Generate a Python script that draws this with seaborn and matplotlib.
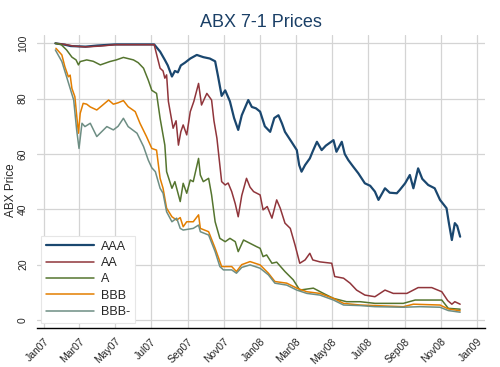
import pandas as pd
import seaborn as sns
import matplotlib.pyplot as plt
import matplotlib.dates as mdates

# days counted from 2007-01-01, prices
aaa_days = [19, 35, 45, 70, 90, 120, 186, 196, 204, 209, 216, 221, 226, 231, 238, 247, 258,
            269, 280, 289, 294, 300, 306, 314, 321, 328, 334, 340, 345, 351, 358, 365, 373,
            382, 389, 396, 402, 407, 418, 427, 431, 435, 441, 449, 454, 461, 469, 476, 489,
            494, 503, 508, 514, 522, 531, 542, 551, 559, 565, 576, 584, 596, 601, 610, 618,
            624, 632, 639, 649, 660, 669, 680, 684, 689, 694, 698, 703]
aaa_vals = [100, 99.5, 99, 98.8, 99.2, 99.6, 99.6, 97, 94, 92, 88, 90, 89.5, 92, 93, 94.5, 95.8,
            95, 94.5, 93.5, 88, 81, 83, 79, 73, 68.7, 74, 77, 79.5, 77, 76.5, 75.3, 70,
            68, 73, 74, 71, 68, 64.4, 61.4, 56, 53.6, 56, 58.4, 61, 64.4, 61.4, 63, 65,
            60.8, 64.4, 60, 57.8, 55.5, 53, 49.4, 48.5, 46.4, 43.4, 47.6, 46, 45.8, 47, 49.4, 52.4,
            47.6, 54.8, 51, 48.8, 47.6, 43.4, 40.4, 35, 28.9, 35, 34, 30.1]

aa_days = [19, 35, 50, 70, 95, 120, 186, 196, 201, 204, 207, 210, 218, 223, 227, 231, 235,
           241, 247, 253, 261, 266, 275, 283, 287, 292, 300, 306, 311, 317, 323, 328, 334,
           342, 348, 354, 365, 370, 377, 385, 393, 399, 407, 416, 424, 432, 441, 449, 454,
           466, 486, 491, 506, 517, 528, 542, 559, 576, 590, 613, 632, 655, 672, 682, 689,
           694, 703]
aa_vals = [100, 99.6, 99, 98.7, 99, 99.5, 99.5, 91, 90, 87.4, 88.6, 79, 69.3, 72, 63.2, 68, 70.5,
           66.9, 75.3, 79, 85.5, 77.7, 81.9, 79.5, 72, 65.7, 50, 48.8, 49.5, 46.4, 42, 37.3, 45,
           51.2, 48, 46.4, 45.2, 39.8, 41, 36.8, 43.4, 40.4, 35, 33.1, 27.1, 20.5, 21.7, 24.1, 21.7,
           21, 20.5, 15.7, 15.1, 13.3, 10.8, 9.0, 8.4, 10.8, 9.6, 9.6, 11.7, 11.7, 10.2, 7, 5.7,
           6.6, 5.7]

a_days = [19, 29, 38, 47, 54, 58, 61, 72, 83, 95, 111, 122, 134, 151, 159, 168, 176, 182,
          190, 196, 204, 207, 216, 221, 230, 235, 241, 247, 252, 261, 264, 269, 278, 283,
          289, 297, 306, 314, 323, 328, 337, 348, 359, 365, 370, 376, 385, 393, 407, 421,
          432, 455, 472, 489, 511, 534, 559, 607, 627, 672, 683, 703]
a_vals = [100, 99.5, 97.6, 95, 94, 92.2, 93.4, 94, 93.5, 92.2, 93.4, 94, 94.9, 94, 93, 91, 86.7, 83,
          81.9, 72.9, 63.2, 53.6, 47.6, 50, 42.8, 49.4, 45.8, 50.6, 50, 58.4, 52.4, 50, 51.2, 45.2,
          35.5, 29.5, 28.3, 29.5, 28.3, 24.7, 28.9, 27.7, 26.5, 25.9, 22.9, 23.5, 20.5, 20.9, 17.5, 14.5,
          10.8, 11.5, 9.6, 7.8, 6.6, 6.6, 6.0, 6.0, 7.2, 7.2, 4.2, 3.9]

bbb_days = [20, 30, 35, 41, 44, 47, 52, 58, 61, 66, 72, 78, 89, 98, 109, 117, 125, 134, 142,
            154, 162, 173, 182, 190, 196, 201, 207, 216, 224, 230, 235, 241, 252, 261, 264,
            278, 289, 297, 300, 317, 325, 334, 348, 365, 379, 390, 410, 427, 444, 466, 489,
            506, 534, 559, 607, 624, 669, 683, 703]
bbb_vals = [98.2, 95.8, 91.6, 87.9, 88.5, 83.7, 80.7, 67.5, 74.7, 78.3, 78, 77, 75.9, 77.5, 79.5, 78, 78.5, 79.3, 77.1,
            75.3, 71.1, 66.3, 62, 61.4, 51.2, 47.6, 40.4, 37.3, 36.1, 37, 33.7, 35.5, 35.5, 38, 33.1,
            31.9, 25.9, 21.1, 19.3, 19.3, 17.5, 20, 21.1, 19.9, 16.9, 13.9, 13.3, 11.5, 10.2, 9.6, 7.8,
            6.0, 5.4, 5.2, 4.8, 5.7, 5.4, 4.0, 3.3]

bbbm_days = [19, 30, 38, 44, 50, 55, 59, 64, 69, 78, 89, 106, 117, 125, 134, 142, 157, 168,
             176, 182, 188, 196, 201, 207, 216, 224, 230, 235, 252, 261, 264, 278, 289, 297,
             303, 317, 325, 334, 348, 365, 379, 390, 410, 427, 444, 466, 489, 506, 534, 559,
             607, 635, 669, 683, 703]
bbbm_vals = [97.6, 93.4, 87.9, 83.7, 79.5, 68.7, 62, 71.1, 69.9, 71.1, 66.3, 69.9, 68.7, 70, 72.9, 69.9, 67.5, 62.7,
             57.8, 55, 53.6, 47.6, 45.8, 39.1, 35.5, 36.8, 33.1, 32.5, 33.1, 34.3, 31.9, 30.7, 24.7, 19.3,
             18.1, 18.1, 16.9, 19, 19.9, 18.7, 16.3, 13.3, 12.6, 10.8, 9.6, 9.0, 7.2, 5.4, 5.2, 4.8,
             4.6, 4.8, 4.6, 3.4, 2.8]

series = [
    ("AAA", aaa_days, aaa_vals, "#1a476f", 1.6),
    ("AA", aa_days, aa_vals, "#90353b", 1.1),
    ("A", a_days, a_vals, "#55752f", 1.1),
    ("BBB", bbb_days, bbb_vals, "#e37e00", 1.1),
    ("BBB-", bbbm_days, bbbm_vals, "#6e8e84", 1.1),
]

sns.set_style("white")
plt.rcParams["font.family"] = ["Liberation Sans", "DejaVu Sans"]

fig = plt.figure(figsize=(5, 3.67), dpi=100)
ax = fig.add_axes([0.074, 0.1063, 0.896, 0.7983])

start = pd.Timestamp("2007-01-01")
for name, days, vals, color, lw in series:
    dates = start + pd.to_timedelta(days, unit="D")
    sns.lineplot(x=dates, y=vals, ax=ax, color=color, linewidth=lw, label=name)

ax.set_xlim(pd.Timestamp("2006-12-20"), pd.Timestamp("2009-01-15"))
ax.set_ylim(-2.9, 103)
ax.set_yticks([0, 20, 40, 60, 80, 100])
ticks = pd.date_range("2007-01-01", "2009-01-01", freq="2MS")
ax.set_xticks(ticks)
ax.xaxis.set_major_formatter(mdates.DateFormatter("%b%y"))

ax.grid(True, color="#d4d4d4", linewidth=0.9)
ax.set_axisbelow(True)
for s in ["top", "right", "left"]:
    ax.spines[s].set_visible(False)
ax.spines["bottom"].set_color("black")
ax.spines["bottom"].set_linewidth(1.0)

ax.tick_params(axis="x", length=5, color="#a0a0a0", labelsize=7.5, pad=1)
ax.tick_params(axis="y", length=5, color="#a0a0a0", labelsize=7.5, pad=1.5)
for lab in ax.get_xticklabels():
    lab.set_rotation(45)
    lab.set_ha("right")
    lab.set_rotation_mode("anchor")
for lab in ax.get_yticklabels():
    lab.set_rotation(90)
    lab.set_va("center")

ax.set_xlabel("")
ax.set_ylabel("ABX Price", fontsize=8.5)
ax.yaxis.set_label_coords(-0.045, 0.47)
ax.set_title("ABX 7-1 Prices", fontsize=13, color="#1a3f66", pad=6)

leg = ax.legend(loc="lower left", bbox_to_anchor=(0.009, 0.017), borderaxespad=0,
                fontsize=9, handlelength=3.8, handletextpad=0.6, labelspacing=0.35,
                borderpad=0.4, fancybox=False, framealpha=1, edgecolor="#e6e6e6")
leg.get_frame().set_linewidth(0.8)

fig.savefig("out.png", dpi=100, facecolor="white")
